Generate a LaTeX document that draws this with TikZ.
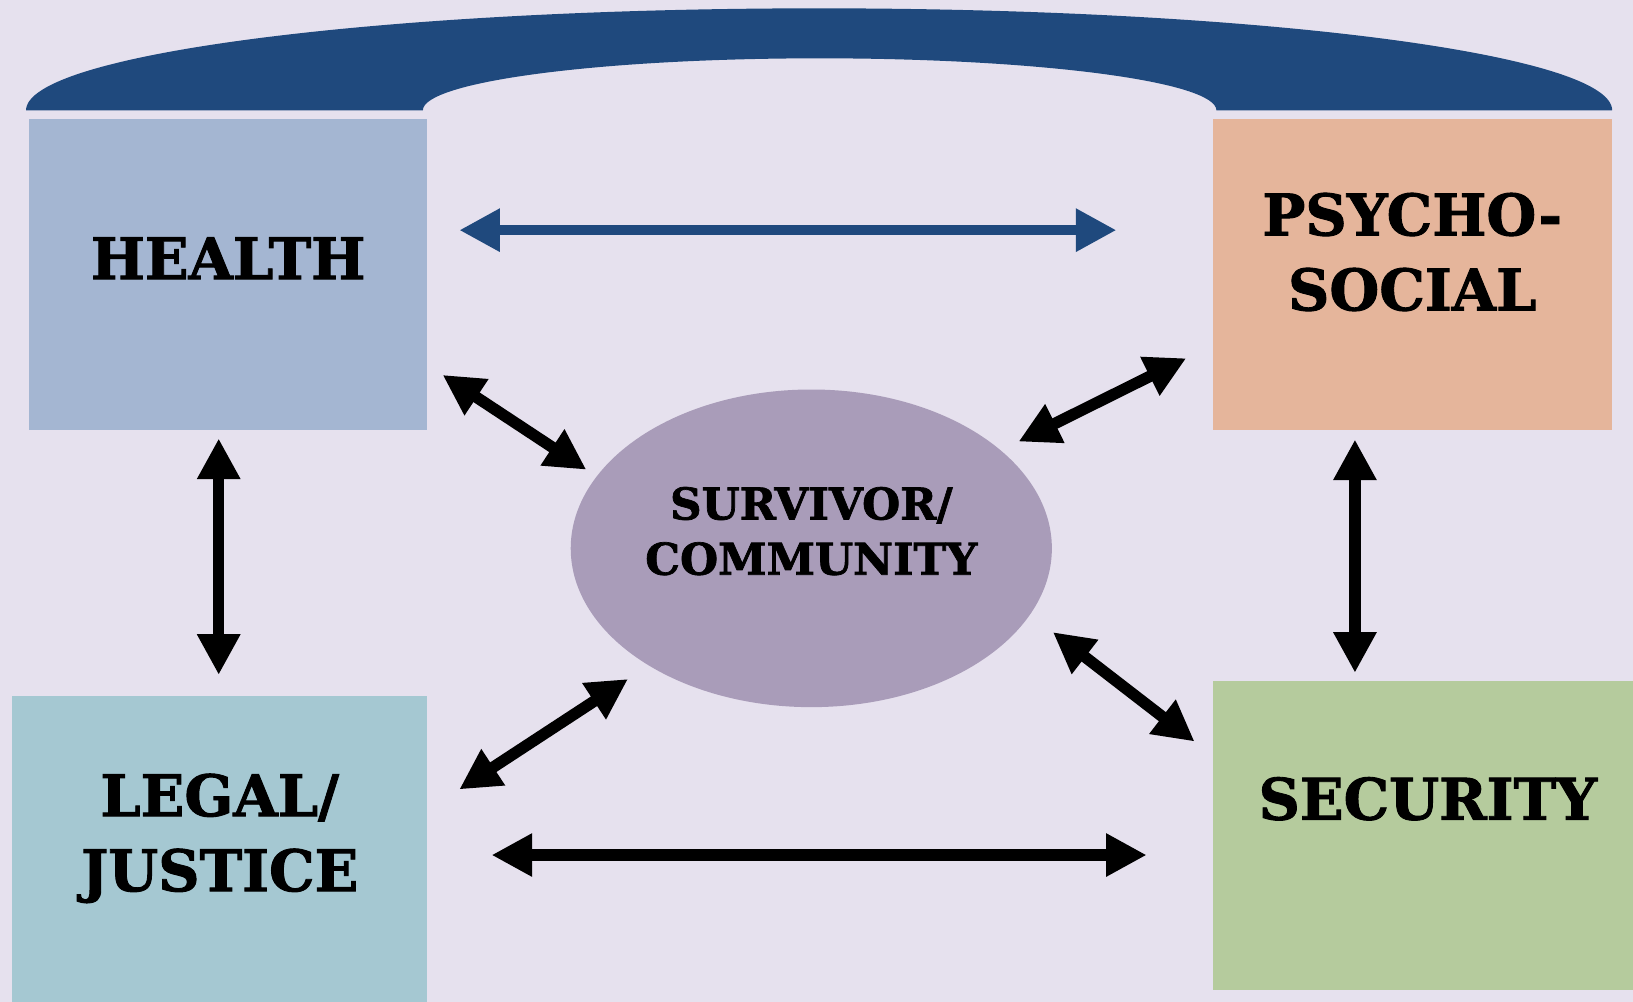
\documentclass[tikz,border=0pt]{standalone}
\usepackage{fontspec}
\newfontfamily\labfont{DejaVu Serif}[BoldFeatures={FakeBold=1.6}]
\usetikzlibrary{arrows.meta,shapes.geometric}
\definecolor{bgc}{RGB}{230,225,238}
\definecolor{archc}{RGB}{31,73,125}
\definecolor{healthc}{RGB}{164,182,210}
\definecolor{psychoc}{RGB}{229,181,155}
\definecolor{legalc}{RGB}{165,200,210}
\definecolor{securc}{RGB}{181,203,157}
\definecolor{survc}{RGB}{169,156,185}
\tikzset{
  box/.style={rectangle, inner sep=0pt, draw=none},
  bigtxt/.style={align=center, inner sep=0pt, font=\labfont\bfseries\fontsize{27.5}{36}\selectfont},
  smalltxt/.style={align=center, inner sep=0pt, font=\labfont\bfseries\fontsize{21}{26.5}\selectfont},
  biarrow/.style={line width=5.5pt, {Triangle[length=19.5pt,width=19.5pt]}-{Triangle[length=19.5pt,width=19.5pt]}},
}
\begin{document}
\begin{tikzpicture}[x=0.5pt,y=-0.5pt]
\fill[bgc] (0,0) rectangle (1568,962);
\useasboundingbox (0,0) rectangle (1568,962);
% arch
\fill[archc] (25,106) arc[start angle=180,end angle=360,x radius=761.5,y radius=98]
  -- (1168,106) arc[start angle=0,end angle=-180,x radius=381,y radius=50] -- cycle;
% boxes
\node[box, fill=healthc, minimum width=191pt, minimum height=149.5pt] (health) at (219,263.5) {};
\node[box, fill=psychoc, minimum width=191.5pt, minimum height=149.5pt] (psycho) at (1356.5,263.5) {};
\node[box, fill=legalc, minimum width=199pt, minimum height=147pt] (legal) at (211,815) {};
\node[box, fill=securc, minimum width=201.5pt, minimum height=148.5pt] (secur) at (1366.5,802.5) {};
\node[ellipse, inner sep=0pt, fill=survc, minimum width=231pt, minimum height=152.5pt] (surv) at (779,526.5) {};
% labels
\node[bigtxt] (healthtxt) at (219,248) {HEALTH};
\node[bigtxt] (psychotxt) at (1356,242) {PSYCHO-\\SOCIAL};
\node[bigtxt] (legaltxt) at (211,805) {LEGAL/\\JUSTICE};
\node[bigtxt] (securtxt) at (1371,767) {SECURITY};
\node[smalltxt] (survtxt) at (779,510) {SURVIVOR/\\COMMUNITY};
% arrow ends
\coordinate (hp1) at (441,221);  \coordinate (hp2) at (1072,221);
\coordinate (hl1) at (210,421);  \coordinate (hl2) at (210,648);
\coordinate (ps1) at (1301,422); \coordinate (ps2) at (1301,646);
\coordinate (ls1) at (472,821);  \coordinate (ls2) at (1101,821);
\coordinate (hs1) at (425,360);  \coordinate (hs2) at (563,451);
\coordinate (pc1) at (1139,344); \coordinate (pc2) at (978,424);
\coordinate (lc1) at (603,652);  \coordinate (lc2) at (441,758);
\coordinate (sc1) at (1011,607); \coordinate (sc2) at (1147,712);
% arrows
\draw[biarrow, archc, line width=5pt] (hp1) -- (hp2);
\draw[biarrow] (hl1) -- (hl2);
\draw[biarrow] (ps1) -- (ps2);
\draw[biarrow] (ls1) -- (ls2);
\draw[biarrow] (hs1) -- (hs2);
\draw[biarrow] (pc1) -- (pc2);
\draw[biarrow] (lc1) -- (lc2);
\draw[biarrow] (sc1) -- (sc2);
\end{tikzpicture}
\end{document}
